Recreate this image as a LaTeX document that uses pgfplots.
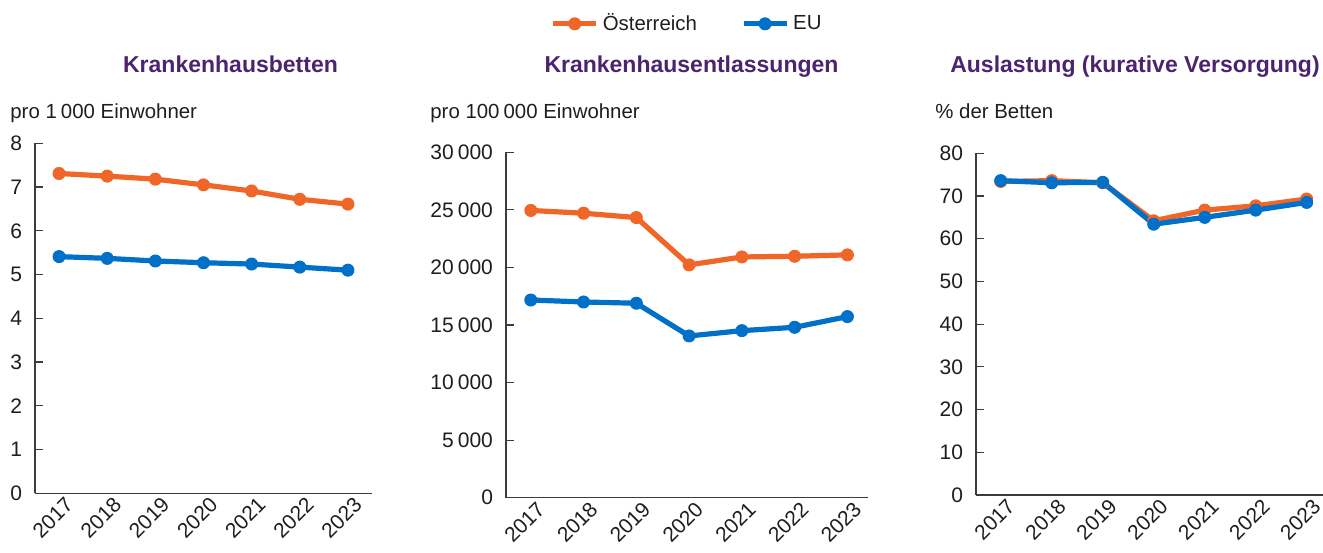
\documentclass[border=0pt]{standalone}
\usepackage{fontspec}
\setmainfont{Liberation Sans}
\usepackage{pgfplots}
\pgfplotsset{compat=1.18}

\definecolor{autcol}{RGB}{240,102,41}
\definecolor{eucol}{RGB}{0,112,201}
\definecolor{ttl}{RGB}{75,35,110}
\definecolor{axc}{RGB}{60,60,60}
\definecolor{txt}{RGB}{30,30,30}
\newcommand{\ticksize}{\fontsize{10.5}{12}\selectfont}
\newcommand{\bodysize}{\fontsize{10.2}{12}\selectfont}

\pgfplotsset{
  panel/.style={
    scale only axis, anchor=south west, clip=false,
    axis lines=left,
    axis line style={-, draw=axc, line width=0.6pt},
    xtick={0,...,6},
    xticklabels={2017,2018,2019,2020,2021,2022,2023},
    x tick style={draw=none},
    y tick style={draw=axc, line width=0.6pt},
    major tick length=4pt, tick align=inside,
    xticklabel style={rotate=45, anchor=north east, font=\ticksize, text=txt,
                      xshift=1.5pt, yshift=-2pt, inner sep=0.5pt},
    yticklabel style={font=\ticksize, text=txt, xshift=-3pt},
    /pgf/number format/assume math mode=true,
    /pgf/number format/1000 sep={\hspace{0.2em}},
    every axis plot/.append style={line width=2.6pt, mark=*, mark size=3pt},
    legend image code/.code={
      \draw[mark repeat=2, mark phase=2, #1]
        plot coordinates {(0pt,0pt) (10.75pt,0pt) (21.5pt,0pt)};},
  },
  austria/.style={draw=autcol, mark options={fill=autcol, draw=autcol, line width=0.5pt}},
  eunion/.style={draw=eucol, mark options={fill=eucol, draw=eucol, line width=0.5pt}},
}

\begin{document}
\begin{tikzpicture}
\useasboundingbox (0,0) rectangle (661.5pt,276pt);

% Krankenhausbetten
\begin{axis}[panel, at={(17.5pt,29.35pt)}, width=168.5pt, height=175pt,
  xmin=-0.5, xmax=6.5, ymin=0, ymax=8, ytick={0,1,...,8}]
\addplot[austria] coordinates {(0,7.31) (1,7.25) (2,7.18) (3,7.05) (4,6.91) (5,6.72) (6,6.61)};
\addplot[eunion] coordinates {(0,5.41) (1,5.37) (2,5.31) (3,5.27) (4,5.24) (5,5.17) (6,5.10)};
\end{axis}

% Krankenhausentlassungen
\begin{axis}[panel, at={(253pt,27.15pt)}, width=181pt, height=172.7pt,
  xmin=-0.47, xmax=6.39, ymin=0, ymax=30000, ytick={0,5000,...,30000},
  scaled y ticks=false,
  legend columns=2,
  legend style={at={(0.503,1.372)}, anchor=center, draw=none, fill=none,
    font=\bodysize, text=txt,
    /tikz/every even column/.append style={column sep=20pt}},
  legend cell align=left]
\addplot[austria] coordinates {(0,24950) (1,24710) (2,24330) (3,20220) (4,20910) (5,20970) (6,21090)};
\addlegendentry{Österreich}
\addplot[eunion] coordinates {(0,17170) (1,17000) (2,16890) (3,14050) (4,14510) (5,14800) (6,15730)};
\addlegendentry{EU}
\end{axis}

% Auslastung
\begin{axis}[panel, at={(488pt,28.5pt)}, width=173.5pt, height=170.85pt,
  xmin=-0.485, xmax=6.32, ymin=0, ymax=80, ytick={0,10,...,80}]
\addplot[austria] coordinates {(0,73.4) (1,73.6) (2,73.1) (3,64.2) (4,66.7) (5,67.7) (6,69.3)};
\addplot[eunion] coordinates {(0,73.6) (1,73.1) (2,73.2) (3,63.4) (4,65.0) (5,66.7) (6,68.5)};
\end{axis}

% titles and units
\begin{scope}[font=\fontsize{11.5}{13}\selectfont\bfseries, text=ttl]
\node[anchor=base] at (115.25pt,239.85pt) {Krankenhausbetten};
\node[anchor=base] at (345.75pt,239.85pt) {Krankenhausentlassungen};
\node[anchor=base] at (567.5pt,239.85pt) {Auslastung (kurative Versorgung)};
\end{scope}
\begin{scope}[font=\bodysize, text=txt, inner sep=0pt]
\node[anchor=base west] at (5pt,216.5pt) {pro 1\hspace{0.2em}000 Einwohner};
\node[anchor=base west] at (215pt,216.5pt) {pro 100\hspace{0.2em}000 Einwohner};
\node[anchor=base west] at (467.5pt,216.5pt) {\% der Betten};
\end{scope}
\end{tikzpicture}
\end{document}
